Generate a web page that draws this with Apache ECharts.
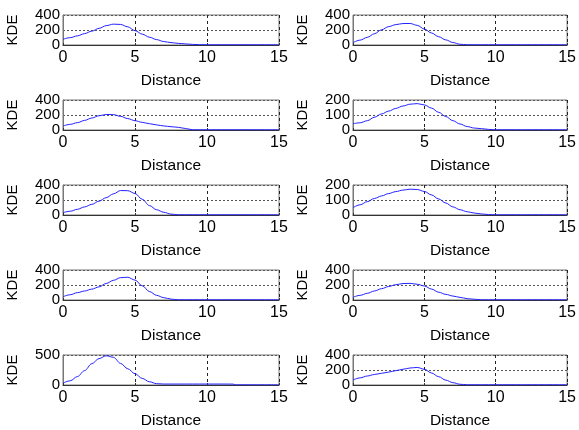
<!DOCTYPE html>
<html><head><meta charset="utf-8">
<script src="https://cdn.jsdelivr.net/npm/echarts@6/dist/echarts.min.js"></script>
<style>html,body{margin:0;padding:0;background:#fff}#c{width:579px;height:430px}</style>
</head><body><div id="c"></div>
<script>
const xs = [0,0.5,1,1.5,2,2.5,3,3.5,4,4.5,5,5.5,6,6.5,7,7.5,8,8.5,9,9.5,10,11,11.8,12,13,14,15];
const kde1 = [76,98,122,152,185,222,258,278,274,242,191,145,104,72,46,32,22,15,8,4,3,3,3,3,3,3,3];
const kde2 = [31,65,102,150,203,245,272,286,287,262,213,160,111,68,33,10,3,3,3,3,3,3,3,3,3,3,3];
const kde3 = [53,75,98,128,160,190,207,205,182,152,124,102,84,68,54,44,36,20,3,3,3,3,3,3,3,3,3];
const kde4 = [42,48,62,85,107,126,144,160,172,176,167,146,118,90,62,40,23,13,9,4,1.5,1.5,1.5,1.5,1.5,1.5,1.5];
const kde5 = [31,50,76,108,142,185,231,282,326,324,287,210,126,70,36,12,3,3,3,3,3,3,3,3,3,3,3];
const kde6 = [49,68,89,110,127,143,156,166,172,170,157,134,107,80,54,35,22,13,7,3,1.5,1.5,1.5,1.5,1.5,1.5,1.5];
const kde7 = [44,70,98,120,145,175,220,262,298,303,266,190,113,62,31,12,3,3,3,3,3,3,3,3,3,3,3];
const kde8 = [36,62,89,120,151,180,204,219,222,210,187,146,104,75,53,35,18,10,3,3,3,3,3,3,3,3,3];
const kde9 = [32,70,140,240,355,440,487,462,360,270,188,110,54,22,16,16,16,16,16,16,16,16,15,3,3,3,3];
const kde10 = [67,95,120,140,156,172,191,210,227,234,210,160,111,65,31,10,3,3,3,3,3,3,3,3,3,3,3];
const panels = [kde1,kde2,kde3,kde4,kde5,kde6,kde7,kde8,kde9,kde10];
const yMax = [400,400,400,200,400,200,400,400,500,400];
const yStep = [200,200,200,100,200,100,200,200,500,200];
const xTicks = [0,5,10,15];
const xName = 'Distance', yName = 'KDE';

const FONT = 'Liberation Sans';
const tops = [15,100,185,270,355];
const lefts = [63,353];
const grids = [], xAxes = [], yAxes = [], series = [];
panels.forEach((vals, i) => {
  const row = Math.floor(i/2), col = i%2;
  grids.push({left: lefts[col], top: tops[row], width: 216, height: row===4?31:30,
    show: true, borderColor: '#777', borderWidth: 1, backgroundColor: '#fff'});
  xAxes.push({type:'value', gridIndex:i, min:xTicks[0], max:xTicks[xTicks.length-1], interval:5,
    name:xName, nameLocation:'middle', nameGap:28,
    nameTextStyle:{fontFamily:FONT, fontSize:15.5, color:'#000'},
    axisLine:{show:true, lineStyle:{color:'#333'}},
    axisTick:{show:true, inside:true, length:2, lineStyle:{color:'#333'}},
    axisLabel:{fontFamily:FONT, fontSize:16, color:'#000', margin:5, showMinLabel:true, showMaxLabel:true},
    splitLine:{show:true, lineStyle:{color:'#222', type:[3,3], width:1}}});
  yAxes.push({type:'value', gridIndex:i, min:0, max:yMax[i], interval:yStep[i],
    name:yName, nameLocation:'middle', nameGap:43,
    nameTextStyle:{fontFamily:FONT, fontSize:15, color:'#000'},
    axisLine:{show:true, lineStyle:{color:'#777'}},
    axisTick:{show:false},
    axisLabel:{fontFamily:FONT, fontSize:15, color:'#000', margin:3, showMinLabel:true, showMaxLabel:true, hideOverlap:false},
    splitLine:{show:true, lineStyle:{color:'#555', type:[2,2], width:1}}});
  series.push({type:'line', xAxisIndex:i, yAxisIndex:i, showSymbol:false, smooth:0.35, smoothMonotone:'x',
    lineStyle:{color:'#2222ff', width:1}, itemStyle:{color:'#0000ff'},
    data: xs.map((x,k)=>[x, vals[k]])});
});
const chart = echarts.init(document.getElementById('c'), null, {renderer:'canvas'});
chart.setOption({animation:false, grid:grids, xAxis:xAxes, yAxis:yAxes, series:series});
</script></body></html>
